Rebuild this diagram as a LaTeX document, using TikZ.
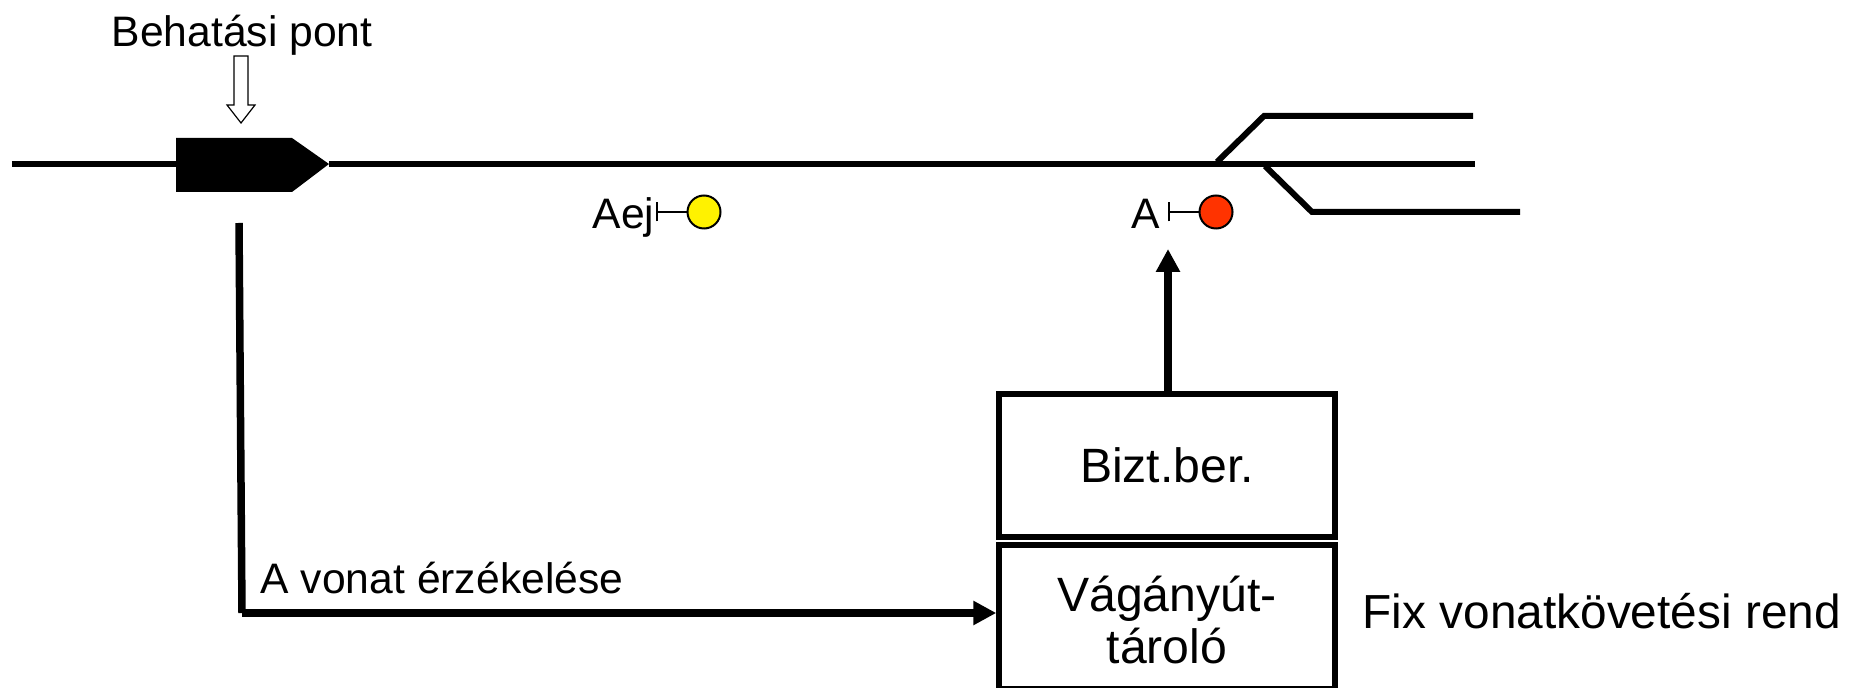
\documentclass[tikz,border=0pt]{standalone}
\usepackage{fontspec}
\setmainfont{Liberation Sans}
\usetikzlibrary{arrows.meta}
\tikzset{
  track/.style={line width=0.06cm},
  feed/.style={line width=0.075cm, -{Triangle[length=0.23cm,width=0.23cm]}},
  unitbox/.style={draw, line width=0.055cm, minimum width=3.36cm, align=center, font=\fontsize{13.7}{14.9}\selectfont},
  lamp/.style={circle, draw, line width=0.02cm, minimum size=0.33cm, inner sep=0pt},
  stem/.style={line width=0.015cm, {Bar[width=0.19cm,length=0pt]}-},
  smalltext/.style={font=\fontsize{12.13}{14.4}\selectfont, inner sep=0pt},
  bigtext/.style={font=\fontsize{13.6}{16.2}\selectfont, inner sep=0pt}
}
\begin{document}
\begin{tikzpicture}
\useasboundingbox (0, 0) rectangle (18.6, 6.87) ;
% tracks
\draw[track] (0.12, 5.23) -- (1.76, 5.23) ;
\draw[track] (3.29, 5.23) -- (14.75, 5.23) ;
\draw[track] (12.17, 5.25) -- (12.64, 5.71) -- (14.73, 5.71) ;
\draw[track] (12.65, 5.21) -- (13.12, 4.75) -- (15.2, 4.75) ;
% detector
\fill (1.76, 5.49) -- (2.92, 5.49) -- (3.29, 5.23) -- (2.92, 4.95) -- (1.76, 4.95) -- cycle ;
\draw[line width=0.012cm, fill=white] (2.34, 6.31) -- (2.48, 6.31) -- (2.48, 5.82) -- (2.55, 5.82) -- (2.41, 5.64) -- (2.27, 5.82) -- (2.34, 5.82) -- cycle ;
\node[smalltext, anchor=base west] (hitlabel) at (1.11, 6.40) {Behatási pont} ;
% signals
\node[lamp, fill=yellow] (lampAej) at (7.04, 4.75) {} ;
\node[lamp, fill={rgb,255:red,255;green,51;blue,0}] (lampA) at (12.16, 4.75) {} ;
\coordinate (stemAej) at (6.56, 4.75) ;
\coordinate (stemA) at (11.68, 4.75) ;
\draw[stem] (stemAej) -- (lampAej) ;
\draw[stem] (stemA) -- (lampA) ;
\node[smalltext, anchor=base west] (nameAej) at (5.92, 4.58) {Aej} ;
\node[smalltext, anchor=base west] (nameA) at (11.31, 4.58) {A} ;
% boxes
\node[unitbox, minimum height=1.43cm] (bizt) at (11.67, 2.215) {Bizt.ber.} ;
\node[unitbox, minimum height=1.44cm, text height=26.8pt] (store) at (11.67, 0.70) {Vágányút-\\tároló} ;
\node[bigtext, anchor=base west] (fixlabel) at (13.62, 0.59) {Fix vonatkövetési rend} ;
% connections
\coordinate (upTip) at (11.68, 4.38) ;
\draw[feed] (bizt.north -| upTip) -- (upTip) ;
\coordinate (feedStart) at (2.39, 4.64) ;
\coordinate (feedCorner) at (2.42, 0.74) ;
\draw[line width=0.075cm] (feedStart) -- (feedCorner) ;
\draw[feed] (feedCorner) -- (feedCorner -| store.west) ;
\node[smalltext, anchor=base west] (feedlabel) at (2.60, 0.94) {A vonat érzékelése} ;
\end{tikzpicture}
\end{document}
